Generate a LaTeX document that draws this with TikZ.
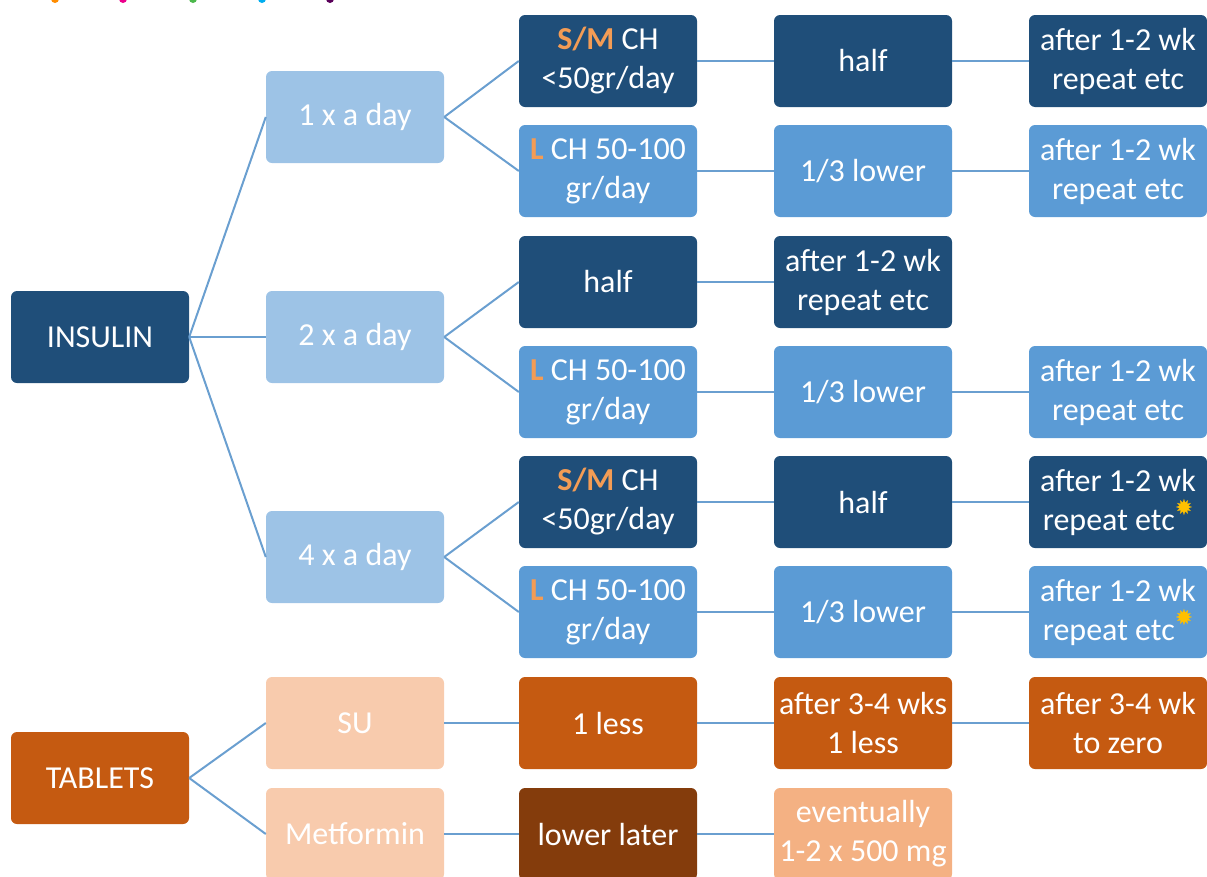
\documentclass[tikz,border=0pt]{standalone}
\usepackage{fontspec}
\setmainfont{Carlito}
\newfontfamily\symfont{DejaVu Sans}
\usetikzlibrary{positioning}
\definecolor{navy}{HTML}{1F4E79}
\definecolor{midblue}{HTML}{5B9BD5}
\definecolor{paleblue}{HTML}{9DC3E6}
\definecolor{rust}{HTML}{C55A11}
\definecolor{peach}{HTML}{F8CBAD}
\definecolor{apricot}{HTML}{F4B183}
\definecolor{brownish}{HTML}{843C0C}
\definecolor{markorange}{HTML}{F39C55}
\definecolor{stargold}{HTML}{FFC000}
\definecolor{linkblue}{HTML}{6A9FD0}
\newcommand{\sizeS}{\textcolor{markorange}{\textbf{S/M}}}
\newcommand{\sizeL}{\textcolor{markorange}{\textbf{L}}}
\newcommand{\starmark}{\raisebox{0.45em}{\fontsize{22}{22}\selectfont\symfont\textcolor{stargold}{✹}}}
\tikzset{
  cell/.style={rounded corners=6pt, minimum width=178pt, minimum height=92pt,
    inner sep=0pt, align=center, text=white, font=\fontsize{32}{39}\selectfont},
  navybox/.style={cell, fill=navy},
  midbox/.style={cell, fill=midblue},
  palebox/.style={cell, fill=paleblue},
  rustbox/.style={cell, fill=rust},
  peachbox/.style={cell, fill=peach},
  apricotbox/.style={cell, fill=apricot},
  brownbox/.style={cell, fill=brownish},
  linkln/.style={draw=linkblue, line width=2pt},
}
\begin{document}
\begin{tikzpicture}[x=1pt,y=-1pt]
    \useasboundingbox (0,0) rectangle (1207,876);
    \begin{scope}
      \clip (0,0) rectangle (1207,876);
      % small dots cut off at the top edge
      \fill[orange!90!yellow] (55,-1) circle (4);
      \fill[magenta] (123,-1) circle (4);
      \fill[green!60!black!70] (193,-1) circle (4);
      \fill[cyan] (262,-1) circle (4);
      \fill[violet!70!black] (330,-1) circle (4);

      % roots
      \node[navybox] (ins) at (100,337) {INSULIN};
      \node[rustbox] (tab) at (100,778) {TABLETS};
      % frequency
      \node[palebox] (once) at (355,117) {1 x a day};
      \node[palebox] (twice) at (355,337) {2 x a day};
      \node[palebox] (four) at (355,557) {4 x a day};
      \node[peachbox] (su) at (355,723) {SU};
      \node[peachbox] (met) at (355,834) {Metformin};
      % carbohydrate / first step
      \node[navybox] (oneS) at (608,61) {\sizeS{} CH\\<50gr/day};
      \node[midbox] (oneL) at (608,171) {\sizeL{} CH 50-100\\gr/day};
      \node[navybox] (twoS) at (608,282) {half};
      \node[midbox] (twoL) at (608,392) {\sizeL{} CH 50-100\\gr/day};
      \node[navybox] (fourS) at (608,502) {\sizeS{} CH\\<50gr/day};
      \node[midbox] (fourL) at (608,612) {\sizeL{} CH 50-100\\gr/day};
      \node[rustbox] (suA) at (608,723) {1 less};
      \node[brownbox] (metA) at (608,834) {lower later};
      % dose change
      \node[navybox] (oneSb) at (863,61) {half};
      \node[midbox] (oneLb) at (863,171) {1/3 lower};
      \node[navybox] (twoSb) at (863,282) {after 1-2 wk\\repeat etc};
      \node[midbox] (twoLb) at (863,392) {1/3 lower};
      \node[navybox] (fourSb) at (863,502) {half};
      \node[midbox] (fourLb) at (863,612) {1/3 lower};
      \node[rustbox] (suB) at (863,723) {after 3-4 wks\\1 less};
      \node[apricotbox] (metB) at (863,834) {eventually\\1-2 x 500 mg};
      % follow-up
      \node[navybox] (oneSc) at (1118,61) {after 1-2 wk\\repeat etc};
      \node[midbox] (oneLc) at (1118,171) {after 1-2 wk\\repeat etc};
      \node[midbox] (twoLc) at (1118,392) {after 1-2 wk\\repeat etc};
      \node[navybox] (fourSc) at (1118,502) {after 1-2 wk\\repeat etc\starmark};
      \node[midbox] (fourLc) at (1118,612) {after 1-2 wk\\repeat etc\starmark};
      \node[rustbox] (suC) at (1118,723) {after 3-4 wk\\to zero};

      % connectors
      \draw[linkln] (ins.east) -- (once.west);
      \draw[linkln] (ins.east) -- (twice.west);
      \draw[linkln] (ins.east) -- (four.west);
      \draw[linkln] (tab.east) -- (su.west);
      \draw[linkln] (tab.east) -- (met.west);
      \draw[linkln] (once.east) -- (oneS.west);
      \draw[linkln] (once.east) -- (oneL.west);
      \draw[linkln] (twice.east) -- (twoS.west);
      \draw[linkln] (twice.east) -- (twoL.west);
      \draw[linkln] (four.east) -- (fourS.west);
      \draw[linkln] (four.east) -- (fourL.west);
      \draw[linkln] (su.east) -- (suA.west);
      \draw[linkln] (met.east) -- (metA.west);
      \draw[linkln] (oneS.east) -- (oneSb.west);
      \draw[linkln] (oneL.east) -- (oneLb.west);
      \draw[linkln] (twoS.east) -- (twoSb.west);
      \draw[linkln] (twoL.east) -- (twoLb.west);
      \draw[linkln] (fourS.east) -- (fourSb.west);
      \draw[linkln] (fourL.east) -- (fourLb.west);
      \draw[linkln] (suA.east) -- (suB.west);
      \draw[linkln] (metA.east) -- (metB.west);
      \draw[linkln] (oneSb.east) -- (oneSc.west);
      \draw[linkln] (oneLb.east) -- (oneLc.west);
      \draw[linkln] (twoLb.east) -- (twoLc.west);
      \draw[linkln] (fourSb.east) -- (fourSc.west);
      \draw[linkln] (fourLb.east) -- (fourLc.west);
      \draw[linkln] (suB.east) -- (suC.west);
    \end{scope}
\end{tikzpicture}
\end{document}
